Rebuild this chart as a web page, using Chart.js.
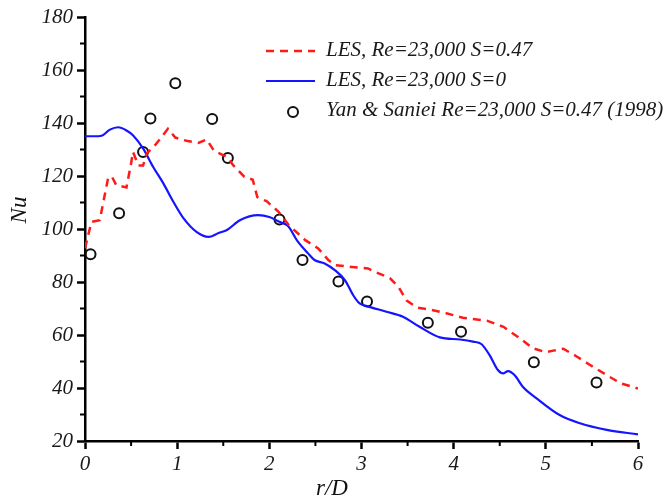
<!DOCTYPE html>
<html>
<head>
<meta charset="utf-8">
<script src="https://cdn.jsdelivr.net/npm/chart.js@4.4.0/dist/chart.umd.min.js"></script>
<style>
  html, body { margin: 0; padding: 0; background: #fff; }
</style>
</head>
<body>
<canvas id="nu-chart" width="670" height="500"></canvas>
<script>
// LES, Re=23,000 S=0.47 (red dashed)
const swirlR = [0, 0.07, 0.16, 0.25, 0.29, 0.34, 0.45, 0.50, 0.52, 0.58, 0.63, 0.67, 0.76, 0.90, 0.98,
  1.10, 1.23, 1.32, 1.40, 1.54, 1.61, 1.73, 1.82, 1.87, 1.97, 2.10, 2.21, 2.39, 2.53, 2.64, 2.71,
  2.89, 3.07, 3.15, 3.31, 3.40, 3.49, 3.60, 3.74, 3.92, 4.10, 4.36, 4.54, 4.72, 4.86, 5.00, 5.08,
  5.19, 5.33, 5.48, 5.63, 5.81, 6.00];
const swirlNu = [92.7, 102.7, 103.3, 119.1, 119.9, 116.5, 115.7, 124.7, 129.1, 124, 124, 128.5, 131.6, 137.8, 134.5,
  133.3, 132.5, 133.8, 129.5, 127.2, 124, 119.7, 118.6, 112, 110.5, 106.5, 101.5, 95.8, 92.7, 88.3, 86.4,
  85.7, 85.1, 83.8, 81.4, 78.2, 73, 70.4, 69.6, 68.2, 66.5, 65.4, 63.1, 58.7, 55, 53.5, 54.1,
  54.8, 52, 48.7, 45.5, 41.8, 39.8];

// LES, Re=23,000 S=0 (blue)
const noSwirlR = [0, 0.10, 0.18, 0.27, 0.36, 0.45, 0.52, 0.63, 0.74, 0.85, 0.96, 1.07, 1.21, 1.34, 1.45,
  1.54, 1.68, 1.88, 2.00, 2.11, 2.20, 2.31, 2.42, 2.49, 2.60, 2.71, 2.82, 2.91, 2.98, 3.06, 3.27,
  3.45, 3.63, 3.85, 4.07, 4.21, 4.30, 4.39, 4.48, 4.54, 4.59, 4.66, 4.75, 4.90, 5.15, 5.37, 5.66, 6.00];
const noSwirlNu = [135, 135, 135.2, 137.5, 138.4, 137.2, 135.4, 130.4, 123.4, 117.2, 110.2, 104, 98.9, 97, 98.5,
  99.6, 103.3, 105.2, 104.5, 102.7, 101.2, 95.2, 90.8, 88.3, 87, 84.5, 80.7, 75, 71.9, 70.9, 68.8,
  66.9, 63.1, 59.1, 58.3, 57.5, 56.6, 52.4, 46.8, 45.5, 46.4, 44.9, 40.5, 36.1, 29.8, 26.7, 24.2, 22.5];

// Yan & Saniei (1998) measurements
const expR = [0.06, 0.37, 0.63, 0.71, 0.98, 1.38, 1.55, 2.11, 2.36, 2.75, 3.06, 3.72, 4.08, 4.87, 5.55];
const expNu = [90.5, 105.9, 129.1, 141.7, 155, 141.5, 126.8, 103.6, 88.3, 80.2, 72.6, 64.6, 61.2, 49.7, 42.1];

const seriesLabels = [
  'LES, Re=23,000 S=0.47',
  'LES, Re=23,000 S=0',
  'Yan & Saniei Re=23,000 S=0.47 (1998)'
];
const xRange = [0, 6];
const yRange = [20, 180];

const toPoints = (xs, ys) => xs.map((x, i) => ({ x: x, y: ys[i] }));

const serif = 'Liberation Serif, Times New Roman, serif';
const tickFont = { family: serif, style: 'italic', size: 21 };

// Minor ticks, axis titles and the legend box are painted on top
const extras = {
  id: 'extras',
  afterDraw(chart) {
    const c = chart.ctx;
    const xs = chart.scales.x, ys = chart.scales.y;
    const area = chart.chartArea;
    c.save();
    c.strokeStyle = '#000';
    c.lineWidth = 2;
    c.beginPath();
    for (let v = 0.5; v < xRange[1]; v += 1) {
      const px = xs.getPixelForValue(v);
      c.moveTo(px, area.bottom);
      c.lineTo(px, area.bottom + 5);
    }
    for (let v = yRange[0] + 10; v < yRange[1]; v += 20) {
      const py = ys.getPixelForValue(v);
      c.moveTo(area.left, py);
      c.lineTo(area.left - 5, py);
    }
    c.stroke();

    // axis titles
    c.fillStyle = '#111';
    c.font = 'italic 23px ' + serif;
    c.textAlign = 'center';
    c.textBaseline = 'middle';
    c.fillText('r/D', 332, 489);
    c.save();
    c.translate(20, 210);
    c.rotate(-Math.PI / 2);
    c.fillText('Nu', 0, 0);
    c.restore();

    // legend
    const lx = 266, lw = 49, tx = 326;
    const rows = [50, 80, 110];
    c.lineWidth = 2.5;
    c.strokeStyle = '#ff1a1a';
    c.setLineDash([8, 6]);
    c.beginPath(); c.moveTo(lx, rows[0] + 1); c.lineTo(lx + lw, rows[0] + 1); c.stroke();
    c.setLineDash([]);
    c.strokeStyle = '#1414ff';
    c.lineWidth = 2.2;
    c.beginPath(); c.moveTo(lx, rows[1] + 1); c.lineTo(lx + lw, rows[1] + 1); c.stroke();
    c.strokeStyle = '#111';
    c.lineWidth = 2;
    c.beginPath(); c.arc(lx + 27, rows[2] + 2, 5, 0, Math.PI * 2); c.stroke();

    c.font = 'italic 21px ' + serif;
    c.fillStyle = '#1a1a1a';
    c.textAlign = 'left';
    seriesLabels.forEach((t, i) => c.fillText(t, tx, rows[i]));
    c.restore();
  }
};

new Chart(document.getElementById('nu-chart'), {
  type: 'scatter',
  data: {
    datasets: [{
      label: seriesLabels[0],
      data: toPoints(swirlR, swirlNu),
      showLine: true,
      borderColor: '#ff1a1a',
      borderWidth: 2.5,
      borderDash: [8, 6],
      pointRadius: 0,
      tension: 0
    }, {
      label: seriesLabels[1],
      data: toPoints(noSwirlR, noSwirlNu),
      showLine: true,
      borderColor: '#1414ff',
      borderWidth: 2.2,
      pointRadius: 0,
      cubicInterpolationMode: 'monotone'
    }, {
      label: seriesLabels[2],
      data: toPoints(expR, expNu),
      showLine: false,
      pointRadius: 5,
      pointBorderWidth: 2,
      pointBorderColor: '#111',
      pointBackgroundColor: 'rgba(0,0,0,0)'
    }]
  },
  options: {
    responsive: false,
    animation: false,
    devicePixelRatio: 1,
    layout: { padding: { top: 17, right: 32, left: 0, bottom: 0 } },
    plugins: { legend: { display: false }, tooltip: { enabled: false } },
    scales: {
      x: {
        type: 'linear',
        min: xRange[0],
        max: xRange[1],
        border: { color: '#000', width: 2.5 },
        grid: { drawOnChartArea: false, drawTicks: true, tickLength: 8, tickColor: '#000', tickWidth: 2.5 },
        ticks: { stepSize: 1, color: '#1a1a1a', font: tickFont, padding: 3, maxRotation: 0 },
        afterFit: s => { s.height = 59; }
      },
      y: {
        type: 'linear',
        min: yRange[0],
        max: yRange[1],
        border: { color: '#000', width: 2.5 },
        grid: { drawOnChartArea: false, drawTicks: true, tickLength: 8, tickColor: '#000', tickWidth: 2.5 },
        ticks: { stepSize: 20, color: '#1a1a1a', font: tickFont, padding: 4 },
        afterFit: s => { s.width = 85; }
      }
    }
  },
  plugins: [extras]
});
</script>
</body>
</html>
